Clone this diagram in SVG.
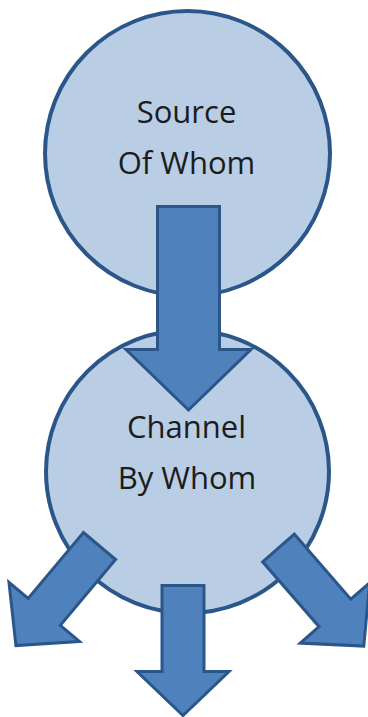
<svg xmlns="http://www.w3.org/2000/svg" width="368" height="717" viewBox="0 0 368 717">
<style>
.circle{fill:#b9cde5;stroke:#2a5689;stroke-width:4}
.arrow{fill:#4f81bd;stroke:#2a5689;stroke-width:3;stroke-linejoin:miter}
.label{font-family:"Open Sans","Noto Sans",sans-serif;font-size:31px;fill:#1c1c1c;text-anchor:middle}
</style>
<defs>
<path id="small-arrow" d="M-21,0 L21,0 L21,86 L46,86 L0,130 L-46,86 L-21,86 Z"/>
</defs>
<g id="source">
<circle class="circle" cx="187.5" cy="153.5" r="142.5"/>
<text class="label" x="186.5" y="123">Source</text>
<text class="label" x="186.5" y="174">Of Whom</text>
</g>
<g id="channel">
<circle class="circle" cx="187.5" cy="471.5" r="141.5"/>
<text class="label" x="186.5" y="438">Channel</text>
<text class="label" x="187" y="489">By Whom</text>
</g>
<g id="connectors">
<path class="arrow" d="M157.5,206.5 L219.5,206.5 L219.5,349.5 L251,349.5 L188.5,410 L126,349.5 L157.5,349.5 Z"/>
<use href="#small-arrow" class="arrow" transform="translate(99.5,546) rotate(40)"/>
<use href="#small-arrow" class="arrow" transform="translate(183,585.5)"/>
<use href="#small-arrow" class="arrow" transform="translate(278.5,548) rotate(-41)"/>
</g>
</svg>
